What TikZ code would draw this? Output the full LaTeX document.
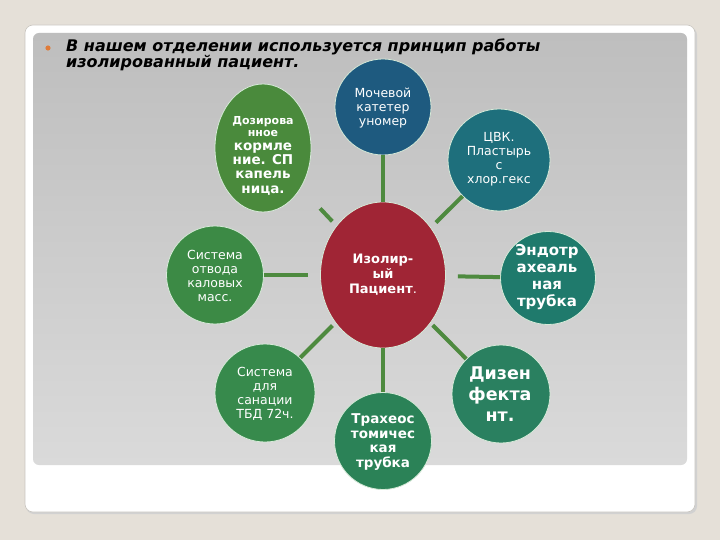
\documentclass[tikz,border=0pt]{standalone}
\usepackage{fontspec}
\setmainfont{DejaVu Sans}
\usetikzlibrary{shapes.geometric}
\definecolor{bgbeige}{HTML}{E5E0D8}
\definecolor{cardedge}{HTML}{C9C6C0}
\definecolor{paneltop}{HTML}{BEBEBE}
\definecolor{panelbot}{HTML}{DADADA}
\definecolor{linkgreen}{HTML}{4E8A3F}
\definecolor{cDos}{HTML}{4A8A3C}
\definecolor{cMoch}{HTML}{1E5A7F}
\definecolor{cCvk}{HTML}{1E6F7C}
\definecolor{cOtv}{HTML}{3C8A45}
\definecolor{cCtr}{HTML}{A02535}
\definecolor{cEnd}{HTML}{1F7A6C}
\definecolor{cSan}{HTML}{378A4C}
\definecolor{cTra}{HTML}{2B8257}
\definecolor{cDiz}{HTML}{2A8060}
\definecolor{bubedge}{HTML}{D6EAD8}
\definecolor{bulletor}{HTML}{E07B39}
\tikzset{
  bub/.style={ellipse, draw=bubedge, line width=0.8pt, inner sep=0pt},
  txt/.style={text=white, align=center, inner sep=0pt},
  link/.style={draw=linkgreen, line width=4pt},
}
\begin{document}
\begin{tikzpicture}[x=1pt,y=-1pt]
\useasboundingbox (0,0) rectangle (720,540);
\fill[bgbeige] (0,0) rectangle (720,540);
% card
\fill[black!18, rounded corners=8pt] (26,27) rectangle (697,514);
\filldraw[fill=white, draw=cardedge, line width=0.6pt, rounded corners=8pt] (25,25) rectangle (695,512);
% panel
\shade[top color=paneltop, bottom color=panelbot, rounded corners=6pt] (33,33) rectangle (687,465);
% bullet and title
\fill[bulletor] (48,48) circle (2.6);
\node[anchor=base west, align=left, inner sep=0pt, font=\fontsize{16}{12.5}\selectfont\bfseries\itshape] (title) at (66,68)
  {В нашем отделении используется принцип работы\\изолированный пациент.};
% bubbles
\node[bub, fill=cDos, minimum width=96, minimum height=128] (dos) at (263,148) {};
\node[bub, fill=cMoch, minimum width=96, minimum height=96] (moch) at (383,107) {};
\node[bub, fill=cCvk, minimum width=102, minimum height=102] (cvk) at (499,160) {};
\node[bub, fill=cOtv, minimum width=97, minimum height=98] (otv) at (215,275) {};
\node[bub, fill=cCtr, minimum width=125, minimum height=146] (ctr) at (383,275) {};
\node[bub, fill=cEnd, minimum width=95, minimum height=93] (endo) at (548,278) {};
\node[bub, fill=cSan, minimum width=100, minimum height=98] (san) at (265,393) {};
\node[bub, fill=cTra, minimum width=97, minimum height=97] (tra) at (383,441) {};
\node[bub, fill=cDiz, minimum width=98, minimum height=98] (diz) at (501,394) {};
% connectors
\draw[link] (moch) -- (ctr);
\draw[link, shorten <=28pt, shorten >=6pt] (dos) -- (ctr);
\draw[link, shorten >=7pt] (cvk) -- (ctr);
\draw[link, shorten >=12pt] (otv) -- (ctr);
\draw[link, shorten >=12pt] (endo) -- (ctr);
\draw[link, shorten >=4pt] (san) -- (ctr);
\draw[link, shorten >=3pt] (diz) -- (ctr);
\draw[link] (tra) -- (ctr);
% texts
\node[txt, font=\fontsize{11}{12}\selectfont\bfseries] (tdosa) at (263,127) {Дозирова\\нное};
\node[txt, font=\fontsize{13.5}{14.3}\selectfont\bfseries] (tdosb) at (263,169) {кормле\\ние. СП\\капель\\ница.};
\node[txt, font=\fontsize{12.5}{14}\selectfont] (tmoch) at (383,108) {Мочевой\\катетер\\уномер};
\node[txt, font=\fontsize{12.5}{14}\selectfont] (tcvk) at (499,159) {ЦВК.\\Пластырь\\с\\хлор.гекс};
\node[txt, font=\fontsize{12.5}{14}\selectfont] (totv) at (215,276) {Система\\отвода\\каловых\\масс.};
\node[txt, font=\fontsize{13}{15}\selectfont\bfseries] (tctr) at (383,275) {Изолир-\\ый\\Пациент\mdseries.};
\node[txt, font=\fontsize{15}{17}\selectfont\bfseries] (tendo) at (547,277) {Эндотр\\ахеаль\\ная\\трубка};
\node[txt, font=\fontsize{12.5}{14}\selectfont] (tsan) at (265,394) {Система\\для\\санации\\ТБД 72ч.};
\node[txt, font=\fontsize{13.5}{14.5}\selectfont\bfseries] (ttra) at (383,442) {Трахеос\\томичес\\кая\\трубка};
\node[txt, font=\fontsize{17.5}{21}\selectfont\bfseries] (tdiz) at (500,394) {Дизен\\фекта\\нт.};
\end{tikzpicture}
\end{document}
